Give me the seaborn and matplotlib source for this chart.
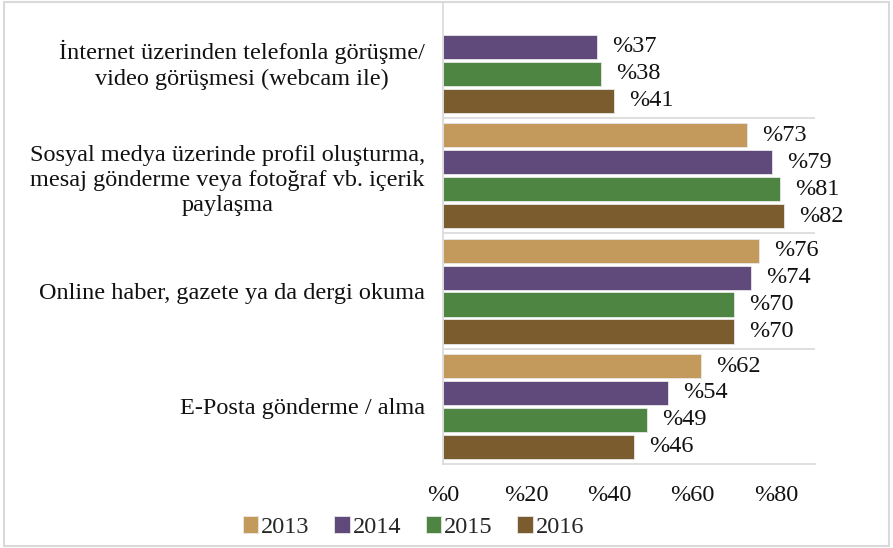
import pandas as pd
import seaborn as sns
import matplotlib
import matplotlib.pyplot as plt
import numpy as np
from matplotlib.patches import Rectangle
from matplotlib.ticker import FixedLocator

# veriler
categories = [
    'İnternet üzerinden telefonla görüşme/\nvideo görüşmesi (webcam ile)',
    'Sosyal medya üzerinde profil oluşturma,\nmesaj gönderme veya fotoğraf vb. içerik\npaylaşma',
    'Online haber, gazete ya da dergi okuma',
    'E-Posta gönderme / alma',
]
years = ['2013', '2014', '2015', '2016']
v2013 = [np.nan, 73, 76, 62]
v2014 = [37, 79, 74, 54]
v2015 = [38, 81, 70, 49]
v2016 = [41, 82, 70, 46]
x_ticks = [0, 20, 40, 60, 80]
x_tick_labels = ['%0', '%20', '%40', '%60', '%80']

colors = ['#C4995C', '#604A7B', '#4E8542', '#7B5C2F']

rows = []
for yr, vals in zip(years, [v2013, v2014, v2015, v2016]):
    for cat, v in zip(categories, vals):
        rows.append({'kategori': cat, 'yil': yr, 'deger': v})
df = pd.DataFrame(rows).dropna()

sns.set_style('white')
matplotlib.rcParams['font.family'] = ['Liberation Serif', 'DejaVu Serif']
matplotlib.rcParams['font.size'] = 17.5

fig = plt.figure(figsize=(8.93, 5.48), dpi=100)
ax = fig.add_axes([0.496, 0.153, 0.417, 0.842])

sns.barplot(data=df, y='kategori', x='deger', hue='yil', order=categories,
            hue_order=years, palette=colors, saturation=1, orient='h',
            width=0.935, gap=0.1, edgecolor='#E8E8E8', linewidth=0.6,
            ax=ax, legend=True)

for c in ax.containers:
    ax.bar_label(c, labels=[f'%{v:.0f}' for v in c.datavalues], padding=11,
                 fontsize=17.5, color='#111111')

ax.set_xlim(0, 89.5)
ax.set_ylim(3.5, -0.5)
ax.set_xticks(x_ticks)
ax.set_xticklabels(x_tick_labels)
ax.set_xlabel('')
ax.set_ylabel('')
ax.tick_params(axis='both', length=0, labelsize=17.5, colors='#111111')
ax.tick_params(axis='x', pad=15)
ax.tick_params(axis='y', pad=13)
for lab in ax.get_yticklabels():
    lab.set_multialignment('center')
    lab.set_linespacing(1.25)

# kategori aralarindaki cizgiler
ax.yaxis.set_minor_locator(FixedLocator([0.5, 1.5, 2.5]))
ax.grid(axis='y', which='minor', color='#D9D9D9', linewidth=1.2)
ax.tick_params(axis='y', which='minor', length=0)

for s in ['top', 'right']:
    ax.spines[s].set_visible(False)
for s in ['left', 'bottom']:
    ax.spines[s].set_color('#D9D9D9')
    ax.spines[s].set_linewidth(1.2)

handles, labels = ax.get_legend_handles_labels()
ax.get_legend().remove()
fig.legend(handles, labels, loc='center', bbox_to_anchor=(0.463, 0.038),
           ncol=4, frameon=False, fontsize=17.5, handlelength=0.65,
           handleheight=0.65, handletextpad=0.12, columnspacing=1.0)

# cerceve
fig.patches.append(Rectangle((0.004, 0.004), 0.992, 0.992, transform=fig.transFigure,
                             fill=False, edgecolor='#D9D9D9', linewidth=1.5))

fig.savefig('out.png', dpi=100)
